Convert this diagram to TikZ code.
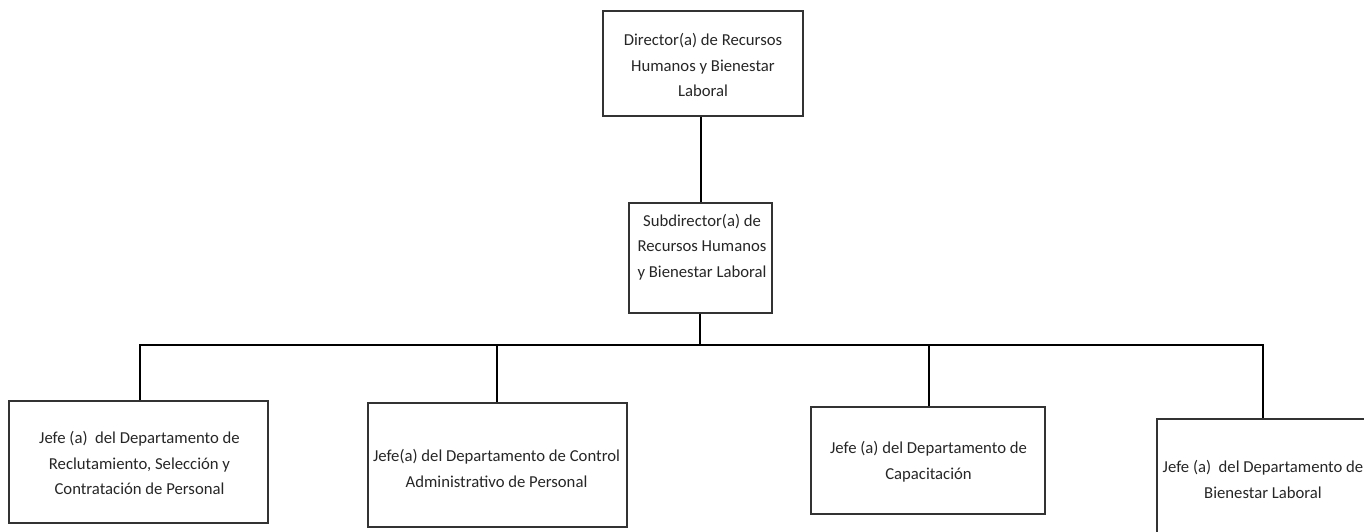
\documentclass[tikz,border=0pt]{standalone}
\usepackage{fontspec}
\setmainfont{Carlito}
\begin{document}
\begin{tikzpicture}[x=1pt,y=-1pt,
  box/.style={draw=black!80,line width=1.1pt,rectangle,inner sep=0pt},
  label/.style={align=center,inner sep=0pt,text=black!85,
    font=\fontsize{16.7}{25.5}\selectfont},
  link/.style={draw=black,line width=2pt}]
\useasboundingbox (0,0) rectangle (1364,531);
\clip (0,0) rectangle (1364,531);

% director
\node[box,minimum width=200pt,minimum height=105pt] (dir) at (703,63.5) {};
\node[label] (dirtxt) at (703,65) {Director(a) de Recursos\\Humanos y Bienestar\\Laboral};

% deputy director
\node[box,minimum width=143pt,minimum height=110pt] (sub) at (700.5,258) {};
\node[label] (subtxt) at (702,247) {Subdirector(a) de\\Recursos Humanos\\y Bienestar Laboral};

% department heads
\node[box,minimum width=259pt,minimum height=122pt] (d1) at (138.5,462) {};
\node[label] (d1txt) at (139.5,463) {Jefe (a)\ \ del Departamento de\\Reclutamiento, Selección y\\Contratación de Personal};

\node[box,minimum width=259pt,minimum height=124pt] (d2) at (497.5,465) {};
\node[label] (d2txt) at (496.5,468.5) {Jefe(a) del Departamento de Control\\Administrativo de Personal};

\node[box,minimum width=234pt,minimum height=107pt] (d3) at (928,460.5) {};
\node[label] (d3txt) at (928.5,461.5) {Jefe (a) del Departamento de\\Capacitación};

\node[box,minimum width=212pt,minimum height=124pt] (d4) at (1263,481) {};
\node[label] (d4txt) at (1263,479.5) {Jefe (a)\ \ del Departamento de\\Bienestar Laboral};

% connectors
\coordinate (bus) at (700,345);
\draw[link] (dir.south -| 701,0) -- (sub.north -| 701,0);
\draw[link] (sub.south -| bus) -- (bus);
\draw[link] (d1.north -| 140,0) |- (bus) -| (d4.north -| 1263,0);
\draw[link] (bus -| 497,0) -- (d2.north -| 497,0);
\draw[link] (bus -| 929,0) -- (d3.north -| 929,0);
\end{tikzpicture}
\end{document}
